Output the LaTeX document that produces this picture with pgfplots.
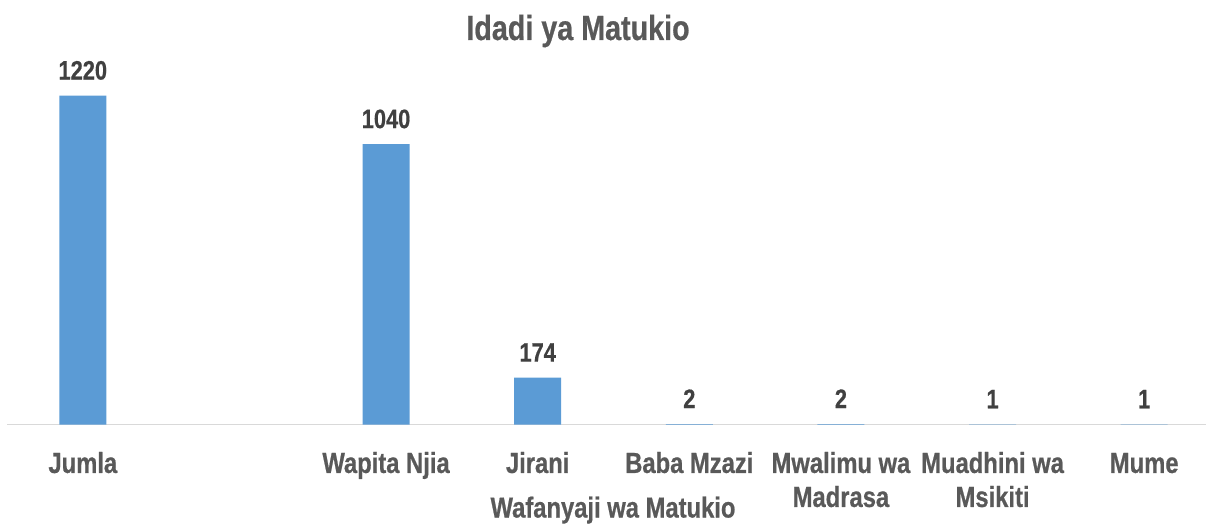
\documentclass[border=0pt]{standalone}
\usepackage{fontspec}
\setmainfont{Liberation Sans}[FakeStretch=0.82, BoldFeatures={FakeBold=0.6}]
\usepackage{pgfplots}
\pgfplotsset{compat=1.18}
\definecolor{barblue}{HTML}{5B9BD5}
\definecolor{txtgray}{HTML}{595959}
\definecolor{lblgray}{HTML}{404040}
\definecolor{axgray}{HTML}{D9D9D9}
\begin{document}
\begin{tikzpicture}
\begin{axis}[
  scale only axis,
  width=606.5pt, height=188.77pt,
  xmin=-0.5, xmax=7.5, ymin=0, ymax=1400,
  enlargelimits=false,
  axis x line=bottom, axis y line=none,
  axis line style={-, draw=axgray, line width=0.75pt},
  xtick={0,1,2,3,4,5,6,7},
  xticklabels={{\strut Jumla},{},{\strut Wapita Njia},{\strut Jirani},{\strut Baba Mzazi},{\strut Mwalimu wa\\Madrasa},{\strut Muadhini wa\\Msikiti},{\strut Mume}},
  major tick length=0pt,
  xticklabel style={align=center, anchor=north, inner sep=0pt, yshift=-12.1pt, text=txtgray,
    font=\fontsize{14.5}{17}\selectfont\bfseries},
  ytick=\empty,
  ybar, bar width=23.5pt,
  /pgf/number format/.cd, 1000 sep={}, assume math mode=true, /pgfplots/.cd,
  nodes near coords,
  nodes near coords style={anchor=base, yshift=8pt, text=lblgray,
    font=\fontsize{13.3}{15}\selectfont\bfseries},
  clip=false,
]
\addplot[fill=barblue, draw=none] coordinates {
  (0,1220) (2,1040) (3,174) (4,2) (5,2) (6,1) (7,1)
};
\coordinate (BL) at (rel axis cs:0,0);
\coordinate (TR) at (rel axis cs:1,1);
\coordinate (TL) at (rel axis cs:0,1);
\end{axis}
\node[anchor=base, text=txtgray, font=\fontsize{17.5}{20}\selectfont\bfseries]
  at ([xshift=285.5pt, yshift=3.5pt]TL) {Idadi ya Matukio};
\node[anchor=base, text=txtgray, font=\fontsize{14.5}{16.5}\selectfont\bfseries]
  at ([xshift=303pt, yshift=-46.5pt]BL) {Wafanyaji wa Matukio};
\pgfresetboundingbox
\path ([xshift=-3.5pt, yshift=-50pt]BL) rectangle ([xshift=-7pt, yshift=23.5pt]TR);
\end{tikzpicture}
\end{document}
